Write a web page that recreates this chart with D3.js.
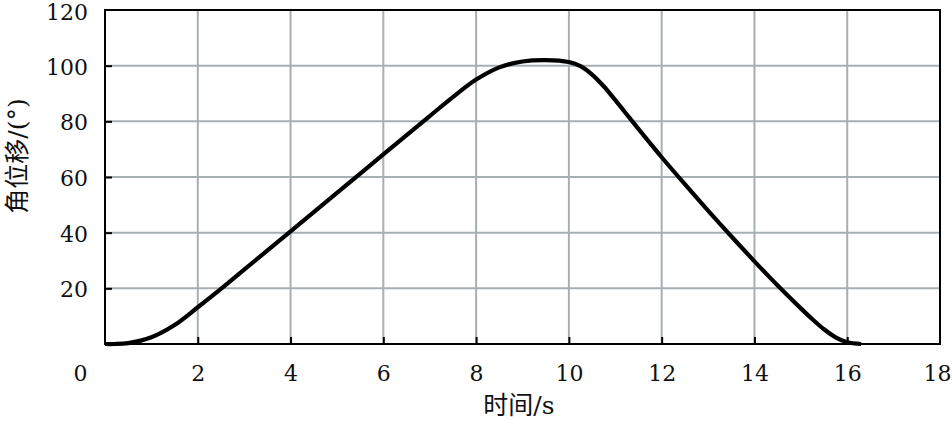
<!DOCTYPE html>
<html>
<head>
<meta charset="utf-8">
<script src="https://cdn.jsdelivr.net/npm/d3@7"></script>
<style>
  html, body { margin: 0; padding: 0; background: #fff; }
</style>
</head>
<body>
<svg id="chart" width="952" height="425"></svg>
<script>
// Data
const timeS = [0, 0.2, 0.5, 1.0, 1.5, 2.0, 2.5, 3.0, 4.0, 5.0, 6.0, 7.0, 7.5, 8.0, 8.5, 9.0, 9.5, 10.0, 10.25, 10.5, 10.75, 11.0, 11.3, 11.6, 12.0, 12.5, 13.0, 13.5, 14.0, 14.5, 15.0, 15.25, 15.5, 15.75, 16.0, 16.3];
const angleDeg = [0, 0, 0.3, 2.4, 6.8, 13.2, 19.8, 26.7, 40.5, 54.3, 68.1, 81.9, 88.7, 95.0, 99.4, 101.5, 102.0, 101.3, 99.8, 96.8, 92.6, 87.6, 81.4, 75.2, 67.1, 57.4, 47.9, 38.7, 29.7, 21.0, 12.8, 8.9, 5.3, 2.4, 0.6, 0];
const xTicks = [0, 2, 4, 6, 8, 10, 12, 14, 16, 18];
const yTicks = [20, 40, 60, 80, 100, 120];
const xTitle = "时间/s";
const yTitle = "角位移/(°)";

const FONT_NUM = "'DejaVu Serif', serif";
const FONT_T = "'DejaVu Serif', 'Noto Sans CJK SC', serif";
const svg = d3.select("#chart");
const L = 105, R = 940, T = 10, B = 344;

const x = d3.scaleLinear().domain([0, 18]).range([L, R]);
const y = d3.scaleLinear().domain([0, 120]).range([B, T]);

// Grid
const grid = svg.append("g").attr("stroke", "#a7afb3").attr("stroke-width", 2);
grid.selectAll("line.v").data(xTicks.filter(d => d > 0 && d < 18)).join("line")
  .attr("x1", d => x(d)).attr("x2", d => x(d)).attr("y1", T).attr("y2", B);
grid.selectAll("line.h").data(yTicks.filter(d => d < 120)).join("line")
  .attr("x1", L).attr("x2", R).attr("y1", d => y(d)).attr("y2", d => y(d));

// Axes
const fs = 22;
const xAxis = svg.append("g").attr("transform", `translate(0,${B})`)
  .call(d3.axisBottom(x).tickValues(xTicks).tickFormat(d3.format("d")).tickSizeInner(-7).tickSizeOuter(0).tickPadding(20));
const yAxis = svg.append("g").attr("transform", `translate(${L},0)`)
  .call(d3.axisLeft(y).tickValues(yTicks).tickFormat(d3.format("d")).tickSizeInner(-7).tickSizeOuter(0).tickPadding(17));
[xAxis, yAxis].forEach(g => {
  g.attr("font-family", null).attr("font-size", null);
  g.select(".domain").remove();
  g.selectAll(".tick line").attr("stroke", "#000").attr("stroke-width", 2);
  g.selectAll(".tick text").style("font-family", FONT_NUM).style("font-size", fs + "px").attr("fill", "#111");
});
xAxis.selectAll(".tick text").attr("dy", "0.71em").attr("y", 21);
xAxis.selectAll(".tick").filter(d => d === 0).select("text").attr("dx", -25);
xAxis.selectAll(".tick").filter(d => d === 18).select("text").attr("dx", -3);
xAxis.selectAll(".tick").filter(d => d === 0 || d === 18).select("line").remove();
yAxis.selectAll(".tick text").attr("dy", "0.38em");
yAxis.selectAll(".tick").filter(d => d === 120).select("line").remove();
yAxis.selectAll(".tick").filter(d => d === 120).select("text").attr("dy", "0.45em");

// Frame
svg.append("rect").attr("x", L).attr("y", T).attr("width", R - L).attr("height", B - T)
  .attr("fill", "none").attr("stroke", "#000").attr("stroke-width", 2);

// Curve
const pts = timeS.map((t, i) => [t, angleDeg[i]]);
const line = d3.line().x(d => x(d[0])).y(d => y(d[1])).curve(d3.curveCatmullRom.alpha(0.5));
svg.append("path").datum(pts).attr("d", line)
  .attr("fill", "none").attr("stroke", "#000").attr("stroke-width", 4.2)
  .attr("stroke-linejoin", "round").attr("stroke-linecap", "butt");

// Titles
svg.append("text").attr("x", 519).attr("y", 414).attr("text-anchor", "middle")
  .style("font-family", FONT_T).style("font-size", "25px").attr("fill", "#111").text(xTitle);
svg.append("text").attr("transform", "translate(26,156) rotate(-90)").attr("text-anchor", "middle")
  .style("font-family", FONT_T).style("font-size", "25px").attr("fill", "#111").text(yTitle);
</script>
</body>
</html>
